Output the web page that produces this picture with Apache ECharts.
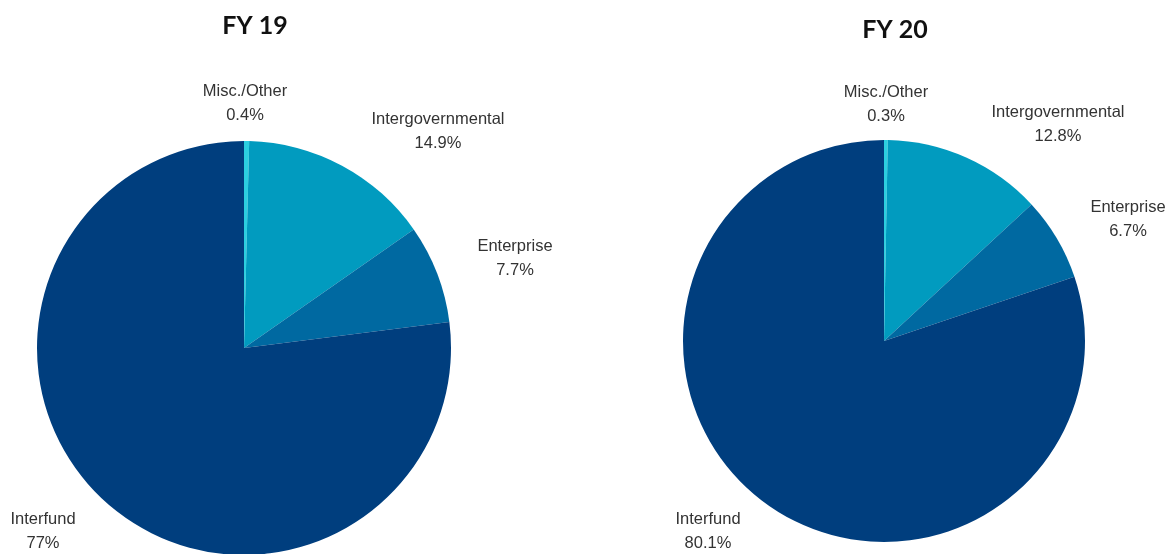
<!DOCTYPE html>
<html>
<head>
<meta charset="utf-8">
<script src="https://cdn.jsdelivr.net/npm/echarts@6/dist/echarts.min.js"></script>
<style>
html,body{margin:0;padding:0;background:#fff;}
#chart{width:1174px;height:554px;}
</style>
</head>
<body>
<div id="chart"></div>
<script>
// ---- data ----
const categories = ['Misc./Other', 'Intergovernmental', 'Enterprise', 'Interfund'];
const fy19Values = [0.4, 14.9, 7.7, 77];
const fy20Values = [0.3, 12.8, 6.7, 80.1];
const titles = ['FY 19', 'FY 20'];

// ---- styling / layout ----
const colors = ['#2ccfe0', '#019bbf', '#0069a1', '#003e7e'];
const pieLayouts = [
  { center: [244, 348], radius: 207, titlePos: [250, 21],
    labels: [[245, 103], [438, 131], [515, 258], [43, 531]] },
  { center: [884, 341], radius: 201, titlePos: [890, 25],
    labels: [[886, 104], [1058, 124], [1128, 219], [708, 531]] }
];

function makeSeries(values, idx) {
  const L = pieLayouts[idx];
  return {
    type: 'pie',
    center: L.center,
    radius: L.radius,
    startAngle: 90,
    clockwise: true,
    silent: true,
    animation: false,
    data: categories.map((c, i) => ({
      name: c, value: values[i], itemStyle: { color: colors[i] }
    })),
    itemStyle: { borderWidth: 0 },
    label: {
      show: true,
      position: 'outside',
      formatter: p => p.name + '\n' + p.value + '%',
      fontFamily: 'Liberation Sans, Arial, sans-serif',
      fontSize: 16.5,
      lineHeight: 24,
      color: '#333',
      align: 'center',
      overflow: 'none',
      width: 200
    },
    labelLine: { show: false },
    labelLayout: p => {
      const pos = L.labels[p.dataIndex];
      return { x: pos[0], y: pos[1], align: 'center', verticalAlign: 'middle' };
    }
  };
}

const chart = echarts.init(document.getElementById('chart'));
chart.setOption({
  backgroundColor: '#fff',
  title: titles.map((t, i) => ({
    text: t,
    left: pieLayouts[i].titlePos[0],
    top: pieLayouts[i].titlePos[1],
    textAlign: 'center',
    textVerticalAlign: 'middle',
    textStyle: {
      fontFamily: 'Lato, sans-serif',
      fontWeight: 'bold',
      fontSize: 25,
      color: '#111'
    }
  })),
  series: [makeSeries(fy19Values, 0), makeSeries(fy20Values, 1)]
});
</script>
</body>
</html>
